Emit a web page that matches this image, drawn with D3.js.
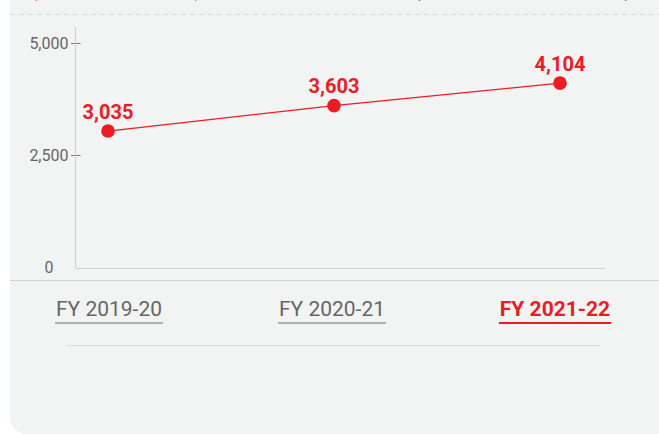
<!DOCTYPE html>
<meta charset="utf-8">
<html>
<head>
  <title>FY chart</title>
  <script src="https://d3js.org/d3.v7.min.js"></script>
</head>
<style>
  body { margin: 0; background-color: #ffffff; }
  svg { display: block; }
</style>
<body>
</body>
<script>

  // chart data
  var years = ["FY 2019-20", "FY 2020-21", "FY 2021-22"];
  var values = [3035, 3603, 4104];
  var yTicks = [0, 2500, 5000];
  var activeYear = "FY 2021-22";

  var red = "#ec1c24";

  var svg = d3.select("body").append("svg")
      .attr("width", 659)
      .attr("height", 434);

  // panel with rounded bottom corners
  svg.append("rect")
      .attr("x", 10)
      .attr("y", -40)
      .attr("width", 680)
      .attr("height", 474)
      .attr("rx", 16)
      .attr("fill", "#f2f3f3");

  // header (scrolled mostly out of view in the reference)
  svg.append("text")
      .attr("x", 30)
      .attr("y", -4)
      .attr("textLength", 172)
      .attr("lengthAdjust", "spacing")
      .attr("font-family", "Roboto")
      .attr("font-weight", "bold")
      .attr("font-size", 22)
      .attr("fill", red)
      .text("(Consolidated)");

  svg.append("text")
      .attr("x", 413)
      .attr("y", -4)
      .attr("textLength", 219)
      .attr("lengthAdjust", "spacing")
      .attr("font-family", "Roboto")
      .attr("font-weight", "bold")
      .attr("font-size", 22)
      .attr("fill", "#111")
      .text("(Amount in ₹ crore)");

  // dashed rule
  svg.append("line")
      .attr("x1", 10).attr("x2", 659)
      .attr("y1", 14.5).attr("y2", 14.5)
      .attr("stroke", "#d9dada")
      .attr("stroke-dasharray", "5,4");

  var x = d3.scalePoint()
      .domain(years)
      .range([108, 560]);

  var y = d3.scaleLinear()
      .domain([0, 5000])
      .range([267, 43]);

  // y axis
  var yAxis = d3.axisLeft(y)
      .tickValues(yTicks)
      .tickFormat(d3.format(","))
      .tickSize(5)
      .tickPadding(3);

  var ga = svg.append("g")
      .attr("transform", "translate(75.5,0)")
      .call(yAxis);

  ga.select(".domain").remove();
  ga.selectAll("text")
      .attr("font-family", "Roboto")
      .attr("font-size", 16)
      .attr("fill", "#666");
  ga.selectAll(".tick line")
      .attr("x2", 5)
      .attr("x1", -4.5)
      .attr("stroke", "#777")
      .attr("opacity", function (d) { return d === 0 ? 0 : 1; });
  ga.selectAll(".tick text")
      .attr("x", function (d) { return d === 0 ? -22 : -7; })
      .attr("dy", "0.35em");

  svg.append("line")
      .attr("x1", 75.5).attr("x2", 75.5)
      .attr("y1", 27).attr("y2", 268)
      .attr("stroke", "#cfcfcf");

  svg.append("line")
      .attr("x1", 75.5).attr("x2", 605)
      .attr("y1", 268.5).attr("y2", 268.5)
      .attr("stroke", "#cfcfcf");

  // line
  var line = d3.line()
      .x(function (d, i) { return x(years[i]); })
      .y(function (d) { return y(d); });

  svg.append("path")
      .datum(values)
      .attr("d", line)
      .attr("fill", "none")
      .attr("stroke", red)
      .attr("stroke-width", 1.3);

  svg.selectAll(".dot")
      .data(values)
      .enter()
        .append("circle")
        .attr("class", "dot")
        .attr("cx", function (d, i) { return x(years[i]); })
        .attr("cy", function (d) { return y(d); })
        .attr("r", 6.8)
        .attr("fill", red);

  svg.selectAll(".val-label")
      .data(values)
      .enter()
        .append("text")
        .attr("class", "val-label")
        .attr("x", function (d, i) { return x(years[i]); })
        .attr("y", function (d) { return y(d) - 12.5; })
        .attr("text-anchor", "middle")
        .attr("font-family", "Roboto")
        .attr("font-weight", "bold")
        .attr("font-size", 20)
        .attr("fill", red)
        .text(function (d) { return d3.format(",")(d); });

  // separators
  svg.append("line")
      .attr("x1", 10).attr("x2", 659)
      .attr("y1", 280.5).attr("y2", 280.5)
      .attr("stroke", "#d4d4d4");

  svg.append("line")
      .attr("x1", 67).attr("x2", 600)
      .attr("y1", 345.5).attr("y2", 345.5)
      .attr("stroke", "#dcdcdc");

  // year tabs
  var tabX = d3.scalePoint()
      .domain(years)
      .range([109, 555]);

  var tabs = svg.selectAll(".tab")
      .data(years)
      .enter()
        .append("g")
        .attr("class", "tab")
        .attr("transform", function (d) { return "translate(" + tabX(d) + ",0)"; });

  tabs.append("text")
      .attr("y", 316)
      .attr("text-anchor", "middle")
      .attr("font-family", "Roboto")
      .attr("font-size", 21)
      .attr("font-weight", function (d) { return d === activeYear ? "bold" : "normal"; })
      .attr("fill", function (d) { return d === activeYear ? red : "#666"; })
      .text(function (d) { return d; });

  tabs.each(function (d) {
    var g = d3.select(this);
    var w = g.select("text").node().getComputedTextLength();
    g.append("line")
        .attr("x1", -w / 2 - 1).attr("x2", w / 2 + 1)
        .attr("y1", 323).attr("y2", 323)
        .attr("stroke", d === activeYear ? red : "#9a9a9a")
        .attr("stroke-width", d === activeYear ? 2 : 1.6);
  });

</script>
</html>
